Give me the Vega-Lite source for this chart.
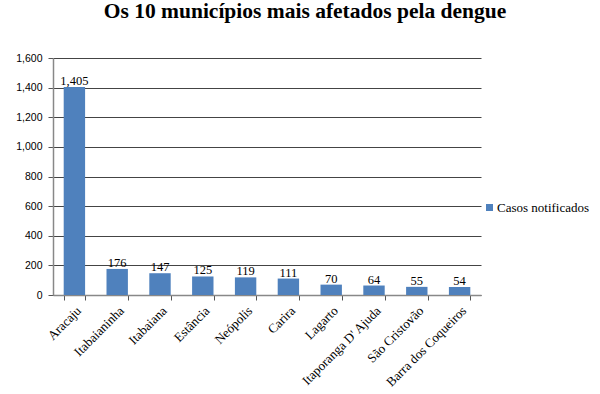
{
  "$schema": "https://vega.github.io/schema/vega-lite/v6.json",
  "width": 428,
  "height": 237,
  "autosize": "none",
  "padding": {"left": 53, "top": 58, "right": 119, "bottom": 99},
  "background": "white",
  "title": {
    "text": "Os 10 municípios mais afetados pela dengue",
    "font": "Liberation Serif",
    "fontSize": 21.5,
    "fontWeight": "bold",
    "color": "black",
    "anchor": "middle",
    "frame": "group",
    "dx": 38,
    "offset": 31
  },
  "data": {
    "values": [
      {"municipio": "Aracaju", "casos": 1405, "serie": "Casos notificados"},
      {"municipio": "Itabaianinha", "casos": 176, "serie": "Casos notificados"},
      {"municipio": "Itabaiana", "casos": 147, "serie": "Casos notificados"},
      {"municipio": "Estância", "casos": 125, "serie": "Casos notificados"},
      {"municipio": "Neópolis", "casos": 119, "serie": "Casos notificados"},
      {"municipio": "Carira", "casos": 111, "serie": "Casos notificados"},
      {"municipio": "Lagarto", "casos": 70, "serie": "Casos notificados"},
      {"municipio": "Itaporanga D' Ajuda", "casos": 64, "serie": "Casos notificados"},
      {"municipio": "São Cristovão", "casos": 55, "serie": "Casos notificados"},
      {"municipio": "Barra dos Coqueiros", "casos": 54, "serie": "Casos notificados"}
    ]
  },
  "encoding": {
    "x": {
      "field": "municipio",
      "type": "nominal",
      "sort": null,
      "title": null,
      "scale": {"paddingInner": 0.5, "paddingOuter": 0.25},
      "axis": {
        "labelAngle": -45,
        "labelFont": "Liberation Serif",
        "labelFontSize": 13,
        "labelColor": "black",
        "labelPadding": 4,
        "tickBand": "extent",
        "tickSize": 5,
        "tickColor": "#555",
        "domainColor": "#888",
        "domainWidth": 1.5,
        "grid": false
      }
    },
    "y": {
      "field": "casos",
      "type": "quantitative",
      "title": null,
      "scale": {"domain": [0, 1600], "nice": false},
      "axis": {
        "values": [0, 200, 400, 600, 800, 1000, 1200, 1400, 1600],
        "format": ",.0f",
        "labelFont": "Liberation Sans",
        "labelFontSize": 10.5,
        "labelColor": "black",
        "labelPadding": 6,
        "tickSize": 5,
        "tickColor": "#555",
        "domainColor": "#888",
        "domainWidth": 1.5,
        "grid": true,
        "gridColor": "#444",
        "gridWidth": 1
      }
    }
  },
  "layer": [
    {
      "mark": {"type": "bar", "color": "#4F81BD"},
      "encoding": {
        "color": {
          "field": "serie",
          "type": "nominal",
          "scale": {"range": ["#4F81BD"]},
          "legend": {
            "title": null,
            "orient": "none",
            "legendX": 430,
            "legendY": 143,
            "symbolType": "square",
            "symbolSize": 49,
            "symbolStrokeWidth": 0,
            "symbolOpacity": 1,
            "labelFont": "Liberation Serif",
            "labelFontSize": 13,
            "labelColor": "black",
            "labelOffset": 1,
            "labelLimit": 200
          }
        }
      }
    },
    {
      "mark": {
        "type": "text",
        "baseline": "bottom",
        "dy": 1,
        "font": "Liberation Serif",
        "fontSize": 12.5,
        "color": "black"
      },
      "encoding": {
        "text": {"field": "casos", "type": "quantitative", "format": ",.0f"}
      }
    }
  ],
  "config": {
    "font": "Liberation Serif",
    "view": {"stroke": null},
    "legend": {"labelFont": "Liberation Serif", "labelFontSize": 13, "labelColor": "black"}
  }
}
